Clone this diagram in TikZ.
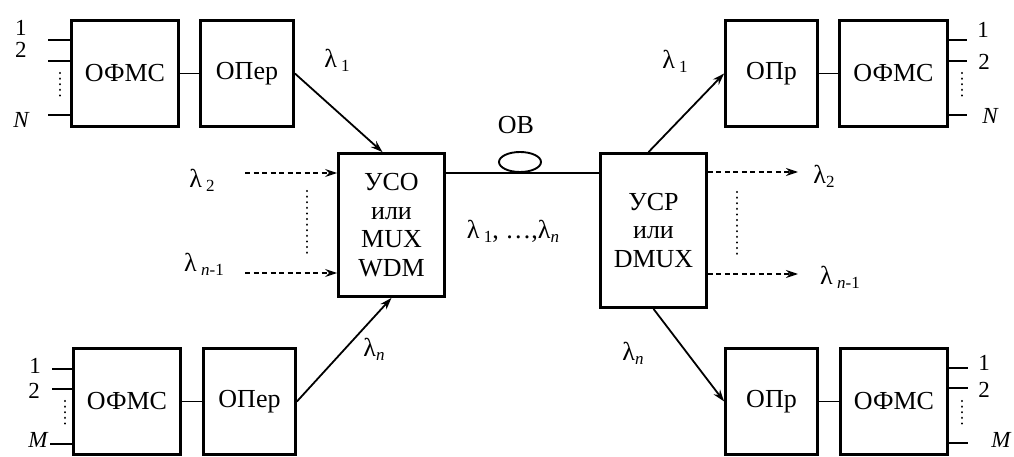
\documentclass[tikz,border=0pt]{standalone}
\usepackage{fontspec}
\setmainfont{Liberation Serif}
\usetikzlibrary{arrows.meta,calc,shapes.geometric}
\tikzset{
 blk/.style={draw, line width=2.8pt, inner sep=0pt, font=\fontsize{26}{28.5}\selectfont, align=center},
 lbl/.style={inner sep=0pt, font=\fontsize{23}{23}\selectfont},
 lam/.style={inner sep=0pt, font=\fontsize{26}{26}\selectfont},
 wire/.style={line width=1.9pt},
 sig/.style={line width=1.8pt, -{Stealth[length=12pt,width=8pt]}},
 dsig/.style={line width=1.6pt, dash pattern=on 5pt off 3.5pt, -{Stealth[length=12pt,width=8pt]}},
 dotv/.style={line width=2.3pt, dash pattern=on 0.1pt off 5.5pt, line cap=round},
}
\newcommand{\lsub}[1]{\raisebox{-0.35ex}{\fontsize{17}{17}\selectfont #1}}
\begin{document}
\begin{tikzpicture}[x=1pt,y=-1pt]
\useasboundingbox (0,0) rectangle (1014,457);
% boxes
\node[blk, minimum width=107pt, minimum height=106pt] (ofmsTL) at (125,73.5) {ОФМС};
\node[blk, minimum width=93pt, minimum height=106pt] (operTL) at (247,73.5) {ОПер};
\node[blk, minimum width=107pt, minimum height=106pt] (ofmsBL) at (127,401.5) {ОФМС};
\node[blk, minimum width=92pt, minimum height=106pt] (operBL) at (249.5,401.5) {ОПер};
\node[blk, minimum width=92pt, minimum height=106pt] (oprTR) at (771.5,73.5) {ОПр};
\node[blk, minimum width=108pt, minimum height=106pt] (ofmsTR) at (893.5,73.5) {ОФМС};
\node[blk, minimum width=92pt, minimum height=106pt] (oprBR) at (771.5,401.5) {ОПр};
\node[blk, minimum width=107pt, minimum height=106pt] (ofmsBR) at (894,401.5) {ОФМС};
\node[blk, minimum width=106pt, minimum height=143pt] (mux) at (391.5,225) {УСО\\или\\MUX\\WDM};
\node[blk, minimum width=106pt, minimum height=154pt] (dmux) at (653.5,230.5) {УСР\\или\\DMUX};
% box links
\draw[wire] (ofmsTL) -- (operTL);
\draw[wire] (ofmsBL) -- (operBL);
\draw[wire] (oprTR) -- (ofmsTR);
\draw[wire] (oprBR) -- (ofmsBR);
% fibre
\node[draw, ellipse, line width=1.9pt, minimum width=42pt, minimum height=20pt, inner sep=0pt] (ob) at (520,162) {};
\node[lam] (oblbl) at (516,125) {ОВ};
\draw[wire] (mux.east |- ob.south) -- (dmux.west |- ob.south);
\node[lam] (lall) at (513,231) {λ\,\lsub{1}, …,λ\lsub{\itshape n}};
% input lines TL
\coordinate (tl1) at (48,40); \coordinate (tl2) at (48,61); \coordinate (tlN) at (48,115);
\draw[wire] (tl1) -- (tl1 -| ofmsTL.west);
\draw[wire] (tl2) -- (tl2 -| ofmsTL.west);
\draw[wire] (tlN) -- (tlN -| ofmsTL.west);
\coordinate (tld1) at (60,73); \coordinate (tld2) at (60,100);
\draw[dotv] (tld1) -- (tld2);
\node[lbl] (tlt1) at (21,28) {1};
\node[lbl] (tlt2) at (21,50) {2};
\node[lbl] (tltN) at (21,120) {\itshape N};
% input lines BL
\coordinate (bl1) at (52,369); \coordinate (bl2) at (52,389); \coordinate (blM) at (50,444);
\draw[wire] (bl1) -- (bl1 -| ofmsBL.west);
\draw[wire] (bl2) -- (bl2 -| ofmsBL.west);
\draw[wire] (blM) -- (blM -| ofmsBL.west);
\coordinate (bld1) at (65,401); \coordinate (bld2) at (65,428);
\draw[dotv] (bld1) -- (bld2);
\node[lbl] (blt1) at (35,366) {1};
\node[lbl] (blt2) at (34,391) {2};
\node[lbl] (bltM) at (38,440) {\itshape M};
% output lines TR
\coordinate (tr1) at (967,40); \coordinate (tr2) at (967,61); \coordinate (trN) at (967,115);
\draw[wire] (tr1 -| ofmsTR.east) -- (tr1);
\draw[wire] (tr2 -| ofmsTR.east) -- (tr2);
\draw[wire] (trN -| ofmsTR.east) -- (trN);
\coordinate (trd1) at (962,73); \coordinate (trd2) at (962,100);
\draw[dotv] (trd1) -- (trd2);
\node[lbl] (trt1) at (983,30) {1};
\node[lbl] (trt2) at (984,62) {2};
\node[lbl] (trtN) at (990,116) {\itshape N};
% output lines BR
\coordinate (br1) at (968,368); \coordinate (br2) at (968,388); \coordinate (brM) at (968,443);
\draw[wire] (br1 -| ofmsBR.east) -- (br1);
\draw[wire] (br2 -| ofmsBR.east) -- (br2);
\draw[wire] (brM -| ofmsBR.east) -- (brM);
\coordinate (brd1) at (962,401); \coordinate (brd2) at (962,428);
\draw[dotv] (brd1) -- (brd2);
\node[lbl] (brt1) at (984,363) {1};
\node[lbl] (brt2) at (984,390) {2};
\node[lbl] (brtM) at (1001,440) {\itshape M};
% solid lambda arrows
\draw[sig] (operTL.east) -- ([xshift=-9pt]mux.north);
\draw[sig] (operBL.east) -- (mux.south);
\draw[sig] ([xshift=-5pt]dmux.north) -- (oprTR.west);
\draw[sig] (dmux.south) -- (oprBR.west);
\node[lam] (l1a) at (337,60) {λ\,\lsub{1}};
\node[lam] (lna) at (374,349) {λ\lsub{\itshape n}};
\node[lam] (l1b) at (675,61) {λ\,\lsub{1}};
\node[lam] (lnb) at (633,353) {λ\lsub{\itshape n}};
% dashed inputs
\coordinate (in2) at (245,173); \coordinate (inm) at (245,273);
\draw[dsig] (in2) -- (in2 -| mux.west);
\draw[dsig] (inm) -- (inm -| mux.west);
\coordinate (ind1) at (307,191); \coordinate (ind2) at (307,253);
\draw[dotv] (ind1) -- (ind2);
\node[lam] (li2) at (202,180) {λ\,\lsub{2}};
\node[lam] (lim) at (204,264) {λ\,\lsub{{\itshape n}-1}};
% dashed outputs
\coordinate (out2) at (798,172); \coordinate (outm) at (798,274);
\draw[dsig] (out2 -| dmux.east) -- (out2);
\draw[dsig] (outm -| dmux.east) -- (outm);
\coordinate (outd1) at (737,192); \coordinate (outd2) at (737,255);
\draw[dotv] (outd1) -- (outd2);
\node[lam] (lo2) at (824,176) {λ\lsub{2}};
\node[lam] (lom) at (840,277) {λ\,\lsub{{\itshape n}-1}};
\end{tikzpicture}
\end{document}
